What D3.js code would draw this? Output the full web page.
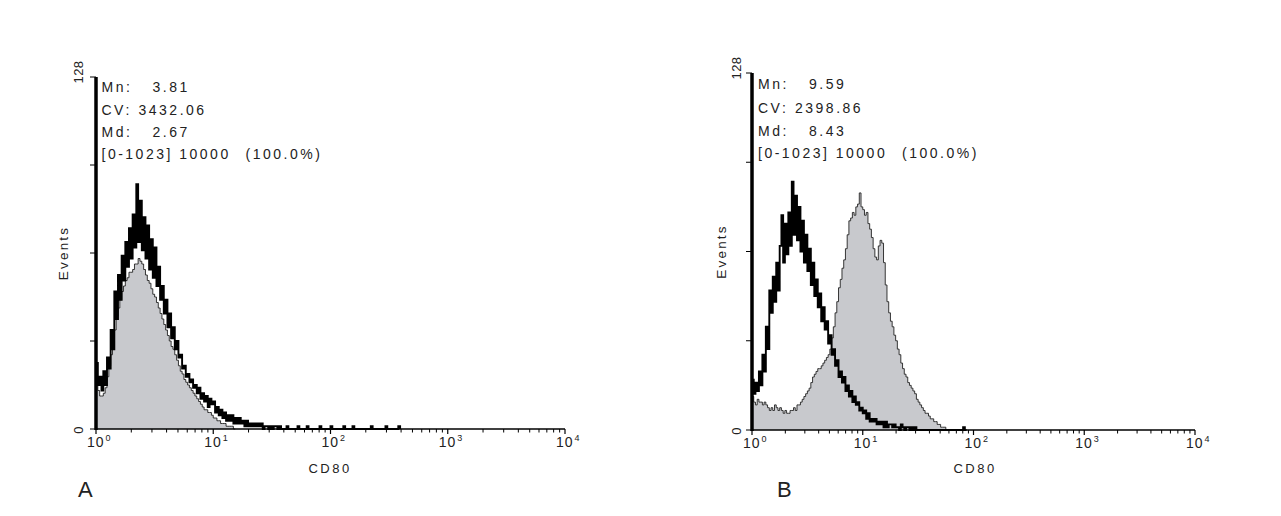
<!DOCTYPE html>
<html>
<head>
<meta charset="utf-8">
<script src="https://cdn.jsdelivr.net/npm/d3@7"></script>
<style>
  html, body { margin: 0; padding: 0; background: #ffffff; }
  svg { display: block; }
  text { font-family: "Liberation Sans", Arial, sans-serif; fill: #222; }
</style>
</head>
<body>
<svg id="chart" width="1281" height="516"></svg>
<script>
// ---------------- DATA ----------------
const binsPerDecade = 64;

// Panel A (CD80): open histogram (noisy thick black line), counts per channel bin from 10^0
const aOpen = [24,16,19,14,21,16,26,22,36,29,50,40,56,47,63,54,68,59,73,62,
  78,66,89,68,83,65,77,62,74,58,69,55,66,52,59,47,52,42,47,37,
  42,33,37,29,32,26,27,22,23,19,20,17,18,15,16,13,15,11,13,10,
  12,8,11,9,10,6,8,5,7,4,6,3,5,3,5,2,4,2,4,2,
  3,1,3,1,2,1,2,1,2,1,2,0,1,1,0,1,0,1,1,0,
  1,0,0,0,1,0,0,0,0,0,1,0,0,0,0,1,0,0,0,0,
  0,0,1,0,0,0,0,0,1,0,0,0,0,0,0,1,0,0,0,0,
  1,0,0,0,0,0,0,0,0,0,1,0,0,0,0,0,0,0,1,0,
  0,0,0,0,0,1];
// Panel A: filled (grey) histogram
const aFilled = [18,14,12,12,13,15,19,23,27,31,36,41,44,47,50,52,54,55,57,57,
  58,60,60,62,61,60,58,56,54,53,51,49,48,46,44,42,40,38,36,34,
  32,30,29,27,25,23,21,20,18,17,16,15,14,13,12,11,10,9,8,7,
  7,6,6,5,4,4,3,3,2,2,2,1,1,1,1,0];

// Panel B (CD80): open histogram (noisy thick black line)
const bOpen = [18,13,17,14,21,16,27,21,37,29,50,42,55,46,60,50,66,77,60,74,
  63,78,66,89,70,84,68,80,64,75,60,70,57,65,52,60,48,54,44,49,
  39,44,36,39,31,34,27,29,23,25,19,21,17,19,14,16,12,14,10,12,
  9,10,7,8,6,7,4,6,3,4,3,4,2,3,2,3,1,3,1,2,
  2,1,2,1,1,0,2,1,0,1,1,0,1,0,1,0,0,0,0,0,
  0,0,0,0,0,0,0,0,0,0,0,0,0,0,0,0,0,0,0,0,
  0,0,1,0];
// Panel B: filled (grey) histogram with thin outline
const bFilled = [12,10,9,11,10,10,9,10,9,8,7,8,7,9,8,7,8,7,6,7,
  6,6,7,7,8,7,9,9,10,11,12,13,14,15,17,19,20,21,22,22,
  23,24,25,26,27,29,33,37,42,46,51,54,58,61,65,70,75,76,78,77,
  80,81,85,80,79,77,78,74,72,69,65,62,61,66,68,67,60,52,46,42,
  39,37,34,32,29,27,24,22,20,19,17,16,15,14,13,11,10,9,8,7,
  6,6,5,4,4,3,3,2,2,1,1,1,0];

// Statistics text
const statLabels = ["Mn:", "CV:", "Md:"];
const statsA = ["3.81", "3432.06", "2.67"];
const statsB = ["9.59", "2398.86", "8.43"];
const gateText = "[0-1023] 10000";
const gatePct = "(100.0%)";

// Axes
const xTickExponents = [0, 1, 2, 3, 4];
const yTickValues = [0, 32, 64, 96, 128];
const yTickLabels = [0, 128];
const xAxisTitle = "CD80";
const yAxisTitle = "Events";
const panelLetters = ["A", "B"];

// ---------------- LAYOUT ----------------
const panels = [
  { open: aOpen, filled: aFilled, stats: statsA, letter: panelLetters[0],
    x0: 96, x1: 565, yBase: 429, yTop: 77,
    statX: 101.5, statY: [92, 114.5, 137, 159],
    yLabX: 83, yTitleX: 68, letterX: 78, xTitleX: 330 },
  { open: bOpen, filled: bFilled, stats: statsB, letter: panelLetters[1],
    x0: 752, x1: 1195, yBase: 430, yTop: 73,
    statX: 758, statY: [89, 113, 136, 158],
    yLabX: 741, yTitleX: 726, letterX: 777, xTitleX: 975 }
];

const svg = d3.select("#chart");
svg.append("rect").attr("width", 1281).attr("height", 516).attr("fill", "#ffffff");

panels.forEach(p => {
  const g = svg.append("g");
  const x = d3.scaleLog().domain([1, 10000]).range([p.x0, p.x1]);
  const y = d3.scaleLinear().domain([0, 128]).range([p.yBase, p.yTop]);

  function pts(counts) {
    const arr = [{ v: 1, c: 0 }];
    counts.forEach((c, i) => arr.push({ v: Math.pow(10, i / binsPerDecade), c: Math.min(c, 128) }));
    arr.push({ v: Math.pow(10, counts.length / binsPerDecade), c: 0 });
    return arr;
  }

  const area = d3.area().curve(d3.curveStepAfter)
    .x(d => x(d.v)).y0(y(0)).y1(d => y(d.c));
  const line = d3.line().curve(d3.curveStepAfter)
    .x(d => x(d.v)).y(d => y(d.c));

  // filled histogram
  const fp = pts(p.filled);
  g.append("path").attr("d", area(fp)).attr("fill", "#c8c9cd").attr("stroke", "none");
  g.append("path").attr("d", line(fp)).attr("fill", "none")
    .attr("stroke", "#222").attr("stroke-width", 0.9);

  // open histogram
  const op = pts(p.open);
  g.append("path").attr("d", line(op)).attr("fill", "none")
    .attr("stroke", "#000").attr("stroke-width", 1.9).attr("stroke-linejoin", "miter");

  // x axis line + ticks
  g.append("line").attr("x1", x(1)).attr("x2", x(10000))
    .attr("y1", y(0)).attr("y2", y(0)).attr("stroke", "#000").attr("stroke-width", 1.6);
  const minor = [];
  for (let d = 0; d < 4; d++) for (let k = 2; k <= 9; k++) minor.push(k * Math.pow(10, d));
  g.selectAll(".minor").data(minor).enter().append("line")
    .attr("x1", d => x(d)).attr("x2", d => x(d))
    .attr("y1", y(0)).attr("y2", y(0) + 3.5)
    .attr("stroke", "#000").attr("stroke-width", 1);
  g.selectAll(".major").data(xTickExponents).enter().append("line")
    .attr("x1", d => x(Math.pow(10, d))).attr("x2", d => x(Math.pow(10, d)))
    .attr("y1", y(0)).attr("y2", y(0) + 5)
    .attr("stroke", "#000").attr("stroke-width", 1.2);
  const xl = g.selectAll(".xl").data(xTickExponents).enter().append("text")
    .attr("x", d => x(Math.pow(10, d)) - 9).attr("y", y(0) + 18)
    .attr("font-size", 14).attr("letter-spacing", 1);
  xl.append("tspan").text("10");
  xl.append("tspan").attr("font-size", 9).attr("dy", -6).attr("dx", 1).text(d => d);

  // y axis line + ticks
  g.append("line").attr("x1", x(1)).attr("x2", x(1))
    .attr("y1", y(0) + 1).attr("y2", y(128))
    .attr("stroke", "#000").attr("stroke-width", 3.5);
  g.selectAll(".yt").data(yTickValues).enter().append("line")
    .attr("x1", x(1) - 6).attr("x2", x(1))
    .attr("y1", d => y(d)).attr("y2", d => y(d))
    .attr("stroke", "#000").attr("stroke-width", 1);
  g.selectAll(".yl").data(yTickLabels).enter().append("text")
    .attr("transform", d => `translate(${p.yLabX},${d === 0 ? y(d) + 1 : y(d) - 5}) rotate(-90)`)
    .attr("text-anchor", "middle").attr("font-size", 13).attr("letter-spacing", 0.5)
    .text(d => d);
  g.append("text")
    .attr("transform", `translate(${p.yTitleX},${y(64)}) rotate(-90)`)
    .attr("text-anchor", "middle").attr("font-size", 13.5).attr("letter-spacing", 2.2)
    .text(yAxisTitle);

  // x axis title
  g.append("text").attr("x", p.xTitleX).attr("y", 473)
    .attr("text-anchor", "middle").attr("font-size", 13).attr("letter-spacing", 2.5)
    .text(xAxisTitle);

  // panel letter
  g.append("text").attr("x", p.letterX).attr("y", 497)
    .attr("font-size", 22).text(p.letter);

  // statistics
  const st = g.append("g").attr("font-size", 14).attr("letter-spacing", 2.5);
  statLabels.forEach((lab, i) => {
    st.append("text").attr("x", p.statX).attr("y", p.statY[i]).text(lab);
    st.append("text").attr("x", p.statX + (i === 1 ? 37 : 51)).attr("y", p.statY[i]).text(p.stats[i]);
  });
  st.append("text").attr("x", p.statX).attr("y", p.statY[3]).text(gateText);
  st.append("text").attr("x", p.statX + 144).attr("y", p.statY[3]).text(gatePct);
});
</script>
</body>
</html>
